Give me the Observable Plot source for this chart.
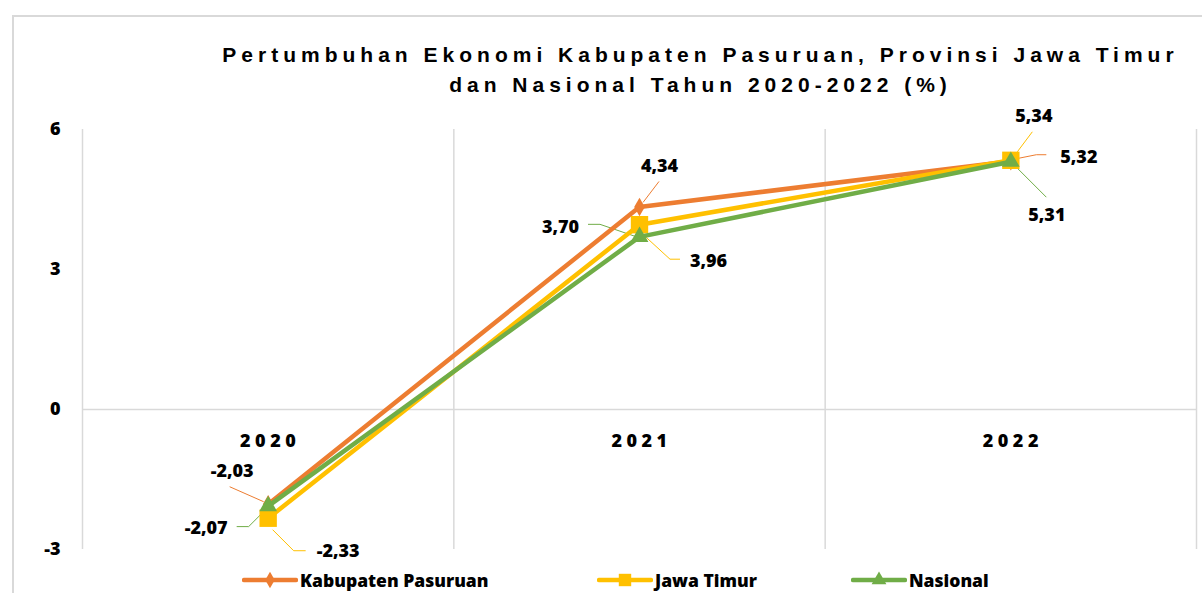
<!DOCTYPE html>
<html>
<head>
<meta charset="utf-8">
<script src="https://cdn.jsdelivr.net/npm/d3@7"></script>
<script src="https://cdn.jsdelivr.net/npm/@observablehq/plot@0.6"></script>
<style>
  html, body { margin: 0; padding: 0; background: #fff; }
  body { width: 1202px; height: 593px; overflow: hidden; position: relative; }
  #frame { position: absolute; left: 12px; top: 15px; width: 1300px; height: 700px; border: 2px solid #d9d9d9; box-sizing: border-box; }
  #title { position: absolute; left: 0; top: 40px; width: 1396px; padding-left: 5px; box-sizing: border-box; text-align: center; font-family: "Liberation Sans", Arial, sans-serif; font-weight: bold; font-size: 21px; letter-spacing: 5px; line-height: 30px; color: #000; }
  #chart { position: absolute; left: 0; top: 0; }
  #legend { position: absolute; left: 0; top: 567px; width: 1202px; height: 26px; font-family: "Open Sans", sans-serif; font-weight: 800; font-size: 17.5px; }
  .leg { position: absolute; top: 0; display: flex; align-items: center; height: 26px; }
</style>
</head>
<body>
<div id="frame"></div>
<div id="title">Pertumbuhan Ekonomi Kabupaten Pasuruan, Provinsi Jawa Timur<br>dan Nasional Tahun 2020-2022 (%)</div>
<div id="chart"></div>
<div id="legend"></div>
<script>
// ---- data ----
const years = [2020, 2021, 2022];
const seriesNames = ["Kabupaten Pasuruan", "Jawa Timur", "Nasional"];
const kabupatenPasuruan = [-2.03, 4.34, 5.32];
const jawaTimur = [-2.33, 3.96, 5.34];
const nasional = [-2.07, 3.70, 5.31];
const yTicks = [-3, 0, 3, 6];

// ---- styles ----
const colors = {"Kabupaten Pasuruan": "#ED7D31", "Jawa Timur": "#FFC000", "Nasional": "#70AD47"};
const symbols = {"Kabupaten Pasuruan": "diamond", "Jawa Timur": "square", "Nasional": "triangle"};
const symbolR = {"Kabupaten Pasuruan": 5.6, "Jawa Timur": 9.8, "Nasional": 6.6};

// label offsets (px) relative to the point, and leader polylines
const labelLayout = {
  "Kabupaten Pasuruan": [
    {dx: -36, dy: -33, leader: [[-38,-17],[-4,-2]]},
    {dx: 20, dy: -41, leader: [[20,-25],[4,-4]]},
    {dx: 68, dy: -4, leader: [[1,-1],[26,-6],[36,-6]]}
  ],
  "Jawa Timur": [
    {dx: 70, dy: 33, leader: [[5,12],[26,33],[38,33]]},
    {dx: 69, dy: 37, leader: [[7,13],[31,35],[41,35]]},
    {dx: 23, dy: -44, leader: [[22,-28],[7,-8]]}
  ],
  "Nasional": [
    {dx: -62, dy: 22, leader: [[-31,21],[-19,21],[-7,9]]},
    {dx: -79, dy: -10, leader: [[-51,-12],[-39,-12],[-1,1]]},
    {dx: 36, dy: 54, leader: [[6,6],[36,36]]}
  ]
};

const valuesBySeries = {"Kabupaten Pasuruan": kabupatenPasuruan, "Jawa Timur": jawaTimur, "Nasional": nasional};
const rows = [];
for (const s of seriesNames) {
  years.forEach((yr, i) => {
    const lay = labelLayout[s][i];
    rows.push({series: s, year: yr, value: valuesBySeries[s][i], dx: lay.dx, dy: lay.dy, leader: lay.leader});
  });
}
const fmt = v => v.toFixed(2).replace(".", ",");
const bounds = [years[0] - 0.5, ...years.map(y => y + 0.5)];

// leader lines as a custom mark using Plot's scales
function leaders(index, scales) {
  const g = d3.create("svg:g");
  for (const r of rows) {
    const px = scales.x(r.year), py = scales.y(r.value);
    g.append("path")
      .attr("d", d3.line()(r.leader.map(([a, b]) => [px + a, py + b])))
      .attr("fill", "none")
      .attr("stroke", colors[r.series])
      .attr("stroke-width", 1);
  }
  return g.node();
}

const marks = [
  Plot.ruleX(bounds, {x: d => d, y1: yTicks[0], y2: yTicks[yTicks.length - 1], stroke: "#d9d9d9", strokeWidth: 1.5}),
  Plot.ruleY([0], {x1: bounds[0], x2: bounds[bounds.length - 1], stroke: "#d9d9d9", strokeWidth: 1.5}),
  Plot.axisY({ticks: yTicks, tickSize: 0, tickPadding: 22, tickFormat: d => String(d), label: null, fontSize: 18, fontWeight: 800}),
  Plot.text(years, {x: d => d, y: 0, dy: 32, dx: 2, text: d => String(d), fontSize: 18, fontWeight: 800, fill: "#000"}),
  leaders
];
for (const s of seriesNames) {
  const d = rows.filter(r => r.series === s);
  marks.push(Plot.line(d, {x: "year", y: "value", stroke: colors[s], strokeWidth: 4.5}));
  marks.push(Plot.dot(d, {x: "year", y: "value", fill: colors[s], stroke: null, symbol: symbols[s], r: symbolR[s]}));
}
for (const r of rows) {
  marks.push(Plot.text([r], {x: "year", y: "value", text: d => fmt(d.value), dx: r.dx, dy: r.dy, fontSize: 18, fontWeight: 800, fill: "#000"}));
}

const chart = Plot.plot({
  width: 1202,
  height: 593,
  marginTop: 129,
  marginBottom: 44,
  marginLeft: 82,
  marginRight: 6,
  x: {type: "linear", domain: [bounds[0], bounds[bounds.length - 1]], axis: null},
  y: {domain: [yTicks[0], yTicks[yTicks.length - 1]], axis: null},
  style: {fontFamily: "'Open Sans', sans-serif", fontSize: "18px", background: "transparent", color: "#000", overflow: "visible"},
  marks
});
document.getElementById("chart").append(chart);
// letter-spaced category labels
const yearStrings = years.map(String);
d3.select(chart).selectAll("text")
  .filter(function() { return yearStrings.includes(this.textContent); })
  .style("letter-spacing", "4.5px");

// ---- legend ----
const legendPos = {"Kabupaten Pasuruan": 242, "Jawa Timur": 597, "Nasional": 851};
const legend = d3.select("#legend");
for (const s of seriesNames) {
  const item = legend.append("div").attr("class", "leg").style("left", legendPos[s] + "px");
  const sw = item.append("svg").attr("width", 56).attr("height", 26);
  sw.append("line").attr("x1", 2).attr("x2", 54).attr("y1", 13).attr("y2", 13)
    .attr("stroke", colors[s]).attr("stroke-width", 4.5).attr("stroke-linecap", "round");
  const typ = {diamond: d3.symbolDiamond, square: d3.symbolSquare, triangle: d3.symbolTriangle}[symbols[s]];
  const legR = {"Kabupaten Pasuruan": 5, "Jawa Timur": 7, "Nasional": 5.5}[s];
  sw.append("path").attr("transform", "translate(28,13)")
    .attr("d", d3.symbol(typ, Math.PI * legR * legR)())
    .attr("fill", colors[s]);
  item.append("span").style("margin-left", "2px").text(s);
}
</script>
</body>
</html>
